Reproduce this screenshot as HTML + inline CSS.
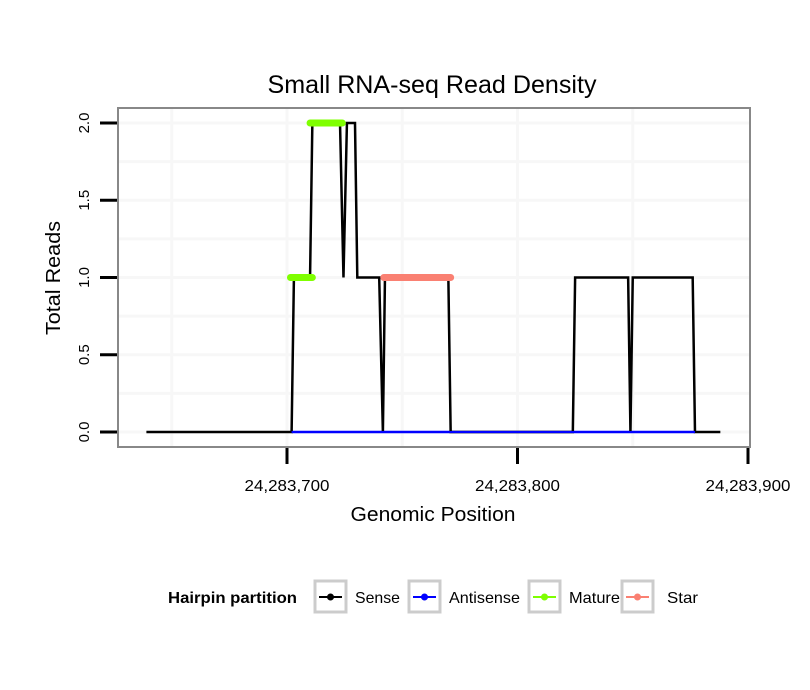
<!DOCTYPE html>
<html><head><meta charset="utf-8"><style>
body{margin:0;background:#fff;}
svg{display:block;font-family:"Liberation Sans",sans-serif;}
</style></head><body>
<svg id="c" width="810" height="690"></svg>
<script>
const senseX=[24283639,24283702,24283703,24283710,24283711,24283723,24283724.5,24283726,24283729.5,24283730.5,24283740,24283741.6,24283742.5,24283770,24283771,24283824,24283825,24283848,24283849,24283850,24283876,24283877,24283888];
const senseY=[0,0,1,1,2,2,1,2,2,1,1,0,1,1,0,0,1,1,0,1,1,0,0];
const antisenseX=[24283702,24283877];
const antisenseY=[0,0];
const matureSegs=[[24283701.5,24283711,1],[24283710,24283724,2]];
const starSegs=[[24283742,24283771,1]];
const xTicks=[24283700,24283800,24283900];
const xTickLabels=["24,283,700","24,283,800","24,283,900"];
const yTicks=[0,0.5,1,1.5,2];
const yTickLabels=["0.0","0.5","1.0","1.5","2.0"];

const NS="http://www.w3.org/2000/svg";
const svg=document.getElementById('c');
function sx(v){return 287+(v-24283700)*2.305;}
function sy(v){return 432-v*154.5;}
function mk(t,a,p){const e=document.createElementNS(NS,t);for(const k in a)e.setAttribute(k,a[k]);(p||svg).appendChild(e);return e;}

const title=mk('text',{x:432,y:93,'text-anchor':'middle','font-size':25,textLength:329,lengthAdjust:'spacingAndGlyphs'});
title.textContent='Small RNA-seq Read Density';



[24283650,24283700,24283750,24283800,24283850].forEach(v=>{
 const g=mk('line',{x1:sx(v),x2:sx(v),y1:108,y2:447,stroke:'#f7f7f7','stroke-width':3});
 
 
});
[0,0.25,0.5,0.75,1,1.25,1.5,1.75,2].forEach(v=>{
 const g=mk('line',{x1:118,x2:750,y1:sy(v),y2:sy(v),stroke:'#f7f7f7','stroke-width':3});
 
 
});
const panel=mk('rect',{x:118,y:108,width:632,height:339,fill:'none',stroke:'#888','stroke-width':2});



yTicks.forEach((v,i)=>{
 const t=mk('line',{x1:100,x2:117,y1:sy(v),y2:sy(v),stroke:'#000','stroke-width':3});
 
 
 const l=mk('text',{x:0,y:0,transform:`translate(89,${sy(v)}) rotate(-90)`,'text-anchor':'middle','font-size':15});
 l.textContent=yTickLabels[i];
 
 
});
xTicks.forEach((v,i)=>{
 const t=mk('line',{x1:sx(v),x2:sx(v),y1:448,y2:464,stroke:'#000','stroke-width':3});
 
 
 const l=mk('text',{x:sx(v),y:491,'text-anchor':'middle','font-size':16,textLength:85,lengthAdjust:'spacingAndGlyphs'});
 l.textContent=xTickLabels[i];
 
 
});
const xt=mk('text',{x:433,y:521,'text-anchor':'middle','font-size':20,textLength:165,lengthAdjust:'spacingAndGlyphs'});
xt.textContent='Genomic Position';


const yt=mk('text',{x:0,y:0,transform:'translate(60,278) rotate(-90)','text-anchor':'middle','font-size':20,textLength:114,lengthAdjust:'spacingAndGlyphs'});
yt.textContent='Total Reads';



const as=mk('polyline',{points:antisenseX.map((x,i)=>sx(x)+','+sy(antisenseY[i])).join(' '),fill:'none',stroke:'#0000ff','stroke-width':2.5});


const se=mk('polyline',{points:senseX.map((x,i)=>sx(x)+','+sy(senseY[i])).join(' '),fill:'none',stroke:'#000','stroke-width':2.5,'stroke-linejoin':'miter'});


const as2=mk('line',{x1:sx(antisenseX[0]),x2:sx(antisenseX[1]),y1:sy(0),y2:sy(0),stroke:'#0000ff','stroke-width':2});


matureSegs.forEach(s=>{
 const m=mk('line',{x1:sx(s[0]),x2:sx(s[1]),y1:sy(s[2]),y2:sy(s[2]),stroke:'#7fff00','stroke-width':7,'stroke-linecap':'round'});
 
 
});
starSegs.forEach(s=>{
 const m=mk('line',{x1:sx(s[0]),x2:sx(s[1]),y1:sy(s[2]),y2:sy(s[2]),stroke:'#fa8072','stroke-width':7,'stroke-linecap':'round'});
 
 
});

const lt=mk('text',{x:168,y:603,'font-size':16,'font-weight':'bold',textLength:129,lengthAdjust:'spacingAndGlyphs'});
lt.textContent='Hairpin partition';


const leg=[['Sense','#000',314,355,45],['Antisense','#0000ff',408,449,71],['Mature','#7fff00',528,569,51],['Star','#fa8072',621,667,31]];
leg.forEach(l=>{
 const g=mk('g',{});
 
 
 mk('rect',{x:l[2]+1,y:581,width:31,height:31,fill:'#fff',stroke:'#ccc','stroke-width':3},g);
 mk('line',{x1:l[2]+5,x2:l[2]+28,y1:597,y2:597,stroke:l[1],'stroke-width':2},g);
 mk('circle',{cx:l[2]+16.5,cy:597,r:3.5,fill:l[1]},g);
 const t=mk('text',{x:l[3],y:603,'font-size':16,textLength:l[4],lengthAdjust:'spacingAndGlyphs'},g);
 t.textContent=l[0];
});
</script>
</body></html>
